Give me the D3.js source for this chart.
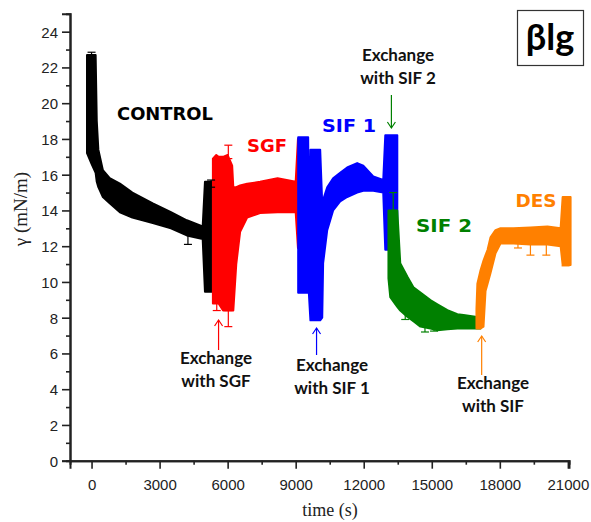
<!DOCTYPE html>
<html>
<head>
<meta charset="utf-8">
<script src="https://cdn.jsdelivr.net/npm/d3@7"></script>
<style>
  body { margin: 0; background: #fff; }
  .tick text { font-family: "Liberation Sans", Arial, sans-serif; font-size: 15px; fill: #222; }
</style>
</head>
<body>
<script>
// time (s) and gamma band (low / high edge of the error-bar cloud)
const controlT  = [-200, 0, 180, 230, 300, 500, 800, 1250, 1800, 2700, 3500, 4200, 4900, 5000, 5530];
const controlLo = [17.2, 16.6, 16.1, 15.6, 15.3, 14.75, 14.4, 13.9, 13.6, 13.3, 13.0, 12.6, 12.4, 9.45, 9.45];
const controlHi = [22.7, 22.7, 22.7, 19.0, 17.4, 16.25, 15.8, 15.5, 15.0, 14.4, 13.9, 13.45, 13.1, 15.6, 15.6];

const sgfT  = [5350, 5500, 5600, 5800, 6000, 6200, 6250, 6380, 6550, 6860, 7430, 8200, 9000, 9100, 9300, 9500];
const sgfLo = [8.8, 8.8, 8.8, 8.4, 8.4, 8.4, 8.4, 11.0, 12.8, 13.6, 13.85, 13.9, 13.9, 11.9, 11.9, 12.5];
const sgfHi = [16.9, 17.1, 17.0, 17.0, 17.1, 16.5, 15.3, 15.3, 15.4, 15.5, 15.6, 15.8, 15.6, 18.0, 17.5, 17.5];

const sif1T  = [9110, 9550, 9580, 9620, 9650, 10080, 10170, 10210, 10390, 10650, 10960, 11270, 11710, 11980, 12420, 12860, 12950, 13100, 13480];
const sif1Lo = [9.4, 9.4, 9.4, 8.5, 7.85, 7.85, 8.0, 11.05, 12.9, 14.0, 14.5, 14.75, 15.0, 15.1, 15.1, 15.0, 11.8, 11.8, 12.7];
const sif1Hi = [18.1, 18.1, 14.0, 14.0, 17.4, 17.4, 14.4, 14.6, 15.3, 15.8, 16.1, 16.4, 16.65, 16.5, 15.9, 15.7, 18.2, 18.2, 18.2];

const sif2T  = [13090, 13170, 13480, 13610, 13920, 14190, 14500, 14940, 15250, 15690, 16130, 16400, 16920, 17150];
const sif2Lo = [10.2, 9.15, 8.6, 8.4, 8.05, 7.8, 7.5, 7.4, 7.3, 7.35, 7.4, 7.4, 7.4, 7.4];
const sif2Hi = [14.0, 14.0, 14.0, 11.05, 10.3, 9.7, 9.4, 8.98, 8.75, 8.42, 8.2, 8.15, 8.05, 8.0];

const desT  = [16970, 17010, 17150, 17280, 17370, 17460, 17590, 17810, 18030, 18600, 19350, 20100, 20680, 20770, 21120];
const desLo = [7.4, 7.4, 7.4, 7.5, 9.5, 9.9, 10.5, 11.6, 12.15, 12.15, 12.1, 12.1, 12.0, 10.95, 10.95];
const desHi = [8.5, 9.9, 10.65, 11.2, 11.5, 11.8, 12.5, 12.9, 13.0, 13.0, 13.05, 13.1, 13.0, 14.75, 14.75];

// isolated error bars that stick out of the clouds
const errSeries = ["control", "control", "control", "sgf", "sgf", "sgf", "sif2", "sif2", "sif2", "sif2", "des", "des", "des", "des"];
const errT      = [0, 4250, 5270, 5520, 6030, 6030, 13300, 13830, 14700, 15100, 18800, 19350, 20050, 20900];
const errLo     = [22.4, 12.1, 15.3, 8.4, 7.5, 16.9, 14.0, 7.9, 7.2, 7.25, 11.9, 11.5, 11.5, 10.9];
const errHi     = [22.85, 13.0, 15.7, 8.9, 8.4, 17.65, 15.0, 8.4, 7.6, 7.5, 12.3, 12.1, 12.1, 11.3];

const yTicks = [0, 2, 4, 6, 8, 10, 12, 14, 16, 18, 20, 22, 24];
const xTicks = [0, 3000, 6000, 9000, 12000, 15000, 18000, 21000];

const colors = { control: "#000000", sgf: "#ff0000", sif1: "#0000ff", sif2: "#008000", des: "#ff8000" };

const width = 591, height = 522;
const svg = d3.select("body").append("svg")
    .attr("width", width)
    .attr("height", height);

const x = d3.scaleLinear().domain([-950, 21050]).range([70, 569]);
const y = d3.scaleLinear().domain([0, 25]).range([460.7, 13.8]);

// bands
const series = [
  { key: "control", t: controlT, lo: controlLo, hi: controlHi },
  { key: "sgf", t: sgfT, lo: sgfLo, hi: sgfHi },
  { key: "sif1", t: sif1T, lo: sif1Lo, hi: sif1Hi },
  { key: "sif2", t: sif2T, lo: sif2Lo, hi: sif2Hi },
  { key: "des", t: desT, lo: desLo, hi: desHi }
];

const area = d3.area()
    .x(d => x(d[0]))
    .y0(d => y(d[1]))
    .y1(d => y(d[2]));

svg.append("g").selectAll("path")
    .data(series)
    .enter()
    .append("path")
    .attr("d", s => area(s.t.map((t, i) => [t, s.lo[i], s.hi[i]])))
    .style("fill", s => colors[s.key])
    .style("stroke", s => colors[s.key])
    .style("stroke-width", 2)
    .style("stroke-linejoin", "round");

// error bars
const errs = errT.map((t, i) => ({ s: errSeries[i], t: t, lo: errLo[i], hi: errHi[i] }));
const eg = svg.append("g").selectAll("g").data(errs).enter().append("g")
    .style("stroke", d => colors[d.s])
    .style("stroke-width", 1.2);
eg.append("line")
    .attr("x1", d => x(d.t)).attr("x2", d => x(d.t))
    .attr("y1", d => y(d.lo)).attr("y2", d => y(d.hi));
eg.append("line")
    .attr("x1", d => x(d.t) - 4).attr("x2", d => x(d.t) + 4)
    .attr("y1", d => y(d.lo)).attr("y2", d => y(d.lo));
eg.append("line")
    .attr("x1", d => x(d.t) - 4).attr("x2", d => x(d.t) + 4)
    .attr("y1", d => y(d.hi)).attr("y2", d => y(d.hi));

// axes
const yAxis = svg.append("g")
    .attr("transform", "translate(70,0)")
    .call(d3.axisLeft(y).tickValues(yTicks).tickSize(8).tickPadding(4).tickFormat(d3.format("d")));
const yMinor = svg.append("g")
    .attr("transform", "translate(70,0)")
    .call(d3.axisLeft(y).tickValues(d3.range(1, 25, 2)).tickSize(4).tickFormat(""));
const xAxis = svg.append("g")
    .attr("transform", "translate(0,460.7)")
    .call(d3.axisBottom(x).tickValues(xTicks).tickSize(8).tickPadding(8).tickFormat(d3.format("d")));
const xMinor = svg.append("g")
    .attr("transform", "translate(0,460.7)")
    .call(d3.axisBottom(x).tickValues(d3.range(1500, 21000, 3000)).tickSize(4).tickFormat(""));

[yAxis, yMinor, xAxis, xMinor].forEach(a => {
  a.select(".domain").style("stroke", "#222").style("stroke-width", 2);
  a.selectAll(".tick line").style("stroke", "#222").style("stroke-width", 1.6);
});
yAxis.selectAll(".tick text").attr("dy", "0.36em");
xAxis.selectAll(".tick text").attr("dy", "0.9em");

svg.append("text")
    .attr("x", 330).attr("y", 516)
    .attr("text-anchor", "middle")
    .style("font-family", "'Liberation Serif', 'Times New Roman', serif")
    .style("font-size", "18px")
    .style("fill", "#222")
    .text("time (s)");

svg.append("text")
    .attr("transform", "translate(27,209) rotate(-90)")
    .attr("text-anchor", "middle")
    .style("font-family", "'Liberation Serif', 'Times New Roman', serif")
    .style("font-size", "19px")
    .style("fill", "#222")
    .text("γ (mN/m)");

// series labels
const labels = [
  { text: "CONTROL", key: "control", x: 165, y: 120, w: 96 },
  { text: "SGF", key: "sgf", x: 267, y: 152, w: 40 },
  { text: "SIF 1", key: "sif1", x: 349, y: 132, w: 54 },
  { text: "SIF 2", key: "sif2", x: 444, y: 232, w: 56 },
  { text: "DES", key: "des", x: 536, y: 207, w: 41 }
];
svg.append("g").selectAll("text")
    .data(labels)
    .enter()
    .append("text")
    .attr("x", d => d.x).attr("y", d => d.y)
    .attr("text-anchor", "middle")
    .attr("textLength", d => d.w)
    .attr("lengthAdjust", "spacingAndGlyphs")
    .style("font-family", "'DejaVu Sans', sans-serif")
    .style("font-weight", "bold")
    .style("font-size", "17px")
    .style("fill", d => colors[d.key])
    .text(d => d.text);

// exchange notes
const notes = [
  { l1: "Exchange", l2: "with SGF", key: "sgf", tx: 216, ty: 364, ax: 5600, a0: 350, a1: 320 },
  { l1: "Exchange", l2: "with SIF 1", key: "sif1", tx: 332, ty: 371, ax: 9920, a0: 355, a1: 328 },
  { l1: "Exchange", l2: "with SIF", key: "des", tx: 493, ty: 389, ax: 17200, a0: 375, a1: 336 },
  { l1: "Exchange", l2: "with SIF 2", key: "sif2", tx: 398, ty: 61, ax: 13220, a0: 95, a1: 128 }
];
const ng = svg.append("g").selectAll("g").data(notes).enter().append("g");
ng.append("text")
    .attr("x", d => d.tx).attr("y", d => d.ty)
    .attr("text-anchor", "middle")
    .style("font-family", "Lato, 'Open Sans', sans-serif")
    .style("font-weight", "bold")
    .style("font-size", "17px")
    .style("fill", "#111")
    .text(d => d.l1);
ng.append("text")
    .attr("x", d => d.tx).attr("y", d => d.ty + 23)
    .attr("text-anchor", "middle")
    .style("font-family", "Lato, 'Open Sans', sans-serif")
    .style("font-weight", "bold")
    .style("font-size", "17px")
    .style("fill", "#111")
    .text(d => d.l2);
ng.append("line")
    .attr("x1", d => x(d.ax)).attr("x2", d => x(d.ax))
    .attr("y1", d => d.a0).attr("y2", d => d.a1)
    .style("stroke", d => colors[d.key])
    .style("stroke-width", 1.2);
ng.append("path")
    .attr("d", d => {
      const px = x(d.ax), dir = d.a1 < d.a0 ? 1 : -1;
      return "M" + (px - 4) + "," + (d.a1 + dir * 6) + "L" + px + "," + d.a1 + "L" + (px + 4) + "," + (d.a1 + dir * 6);
    })
    .style("fill", "none")
    .style("stroke", d => colors[d.key])
    .style("stroke-width", 1.2);

// protein box
svg.append("rect")
    .attr("x", 517.5).attr("y", 10.5)
    .attr("width", 66).attr("height", 55)
    .style("fill", "#fff")
    .style("stroke", "#333")
    .style("stroke-width", 1.2);
svg.append("text")
    .attr("x", 550).attr("y", 50)
    .attr("text-anchor", "middle")
    .style("font-family", "Lato, 'Open Sans', sans-serif")
    .style("font-weight", "bold")
    .style("font-size", "36px")
    .style("fill", "#000")
    .text("βlg");
</script>
</body>
</html>
